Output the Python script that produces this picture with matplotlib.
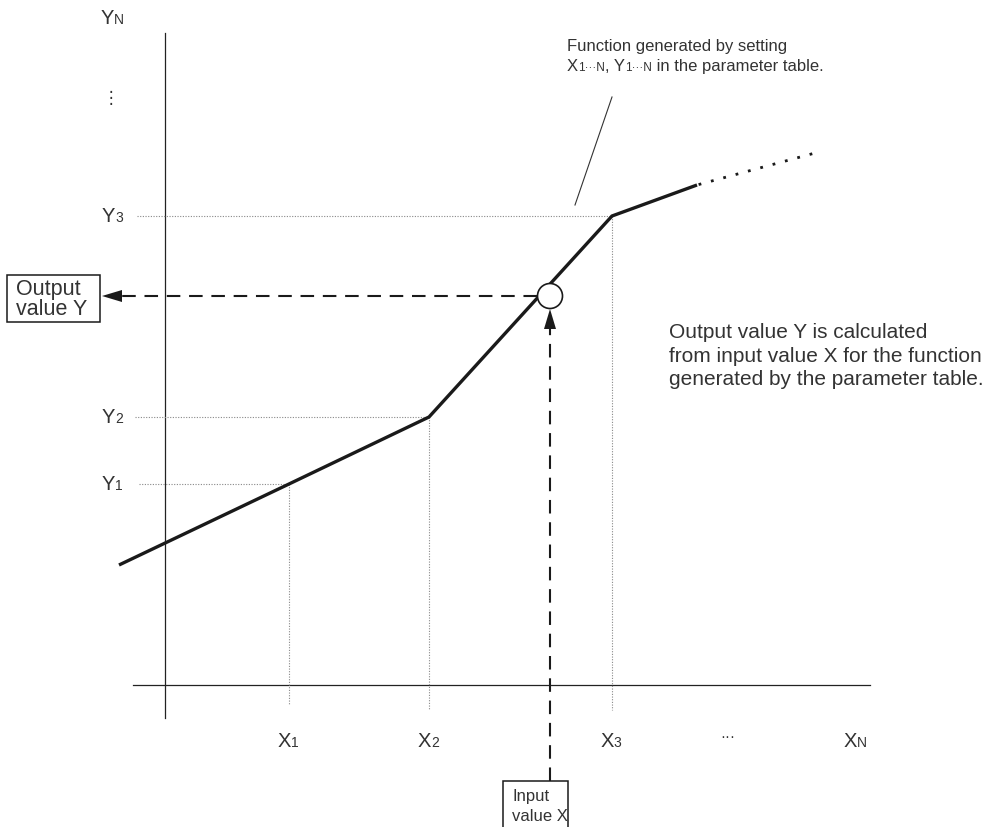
import matplotlib
matplotlib.use("Agg")
import matplotlib.pyplot as plt
from matplotlib.patches import Circle, Rectangle, Polygon

plt.rcParams['font.family'] = ['Liberation Sans', 'DejaVu Sans']

# Diagram coordinates (x to the right, y downward)
axis_x, axis_y = 165, 685
curve_x = [119, 289, 429, 612, 697]
curve_y = [565, 484, 417, 216, 185]
ext_x = [697, 815]
ext_y = [185, 153]
break_x = [289, 429, 612]   # X1, X2, X3
break_y = [484, 417, 216]   # Y1, Y2, Y3
x_labels = [("X", "1"), ("X", "2"), ("X", "3")]
y_labels = [("Y", "1"), ("Y", "2"), ("Y", "3")]
point = (550, 296)

TXT = "#333333"
INK = "#1a1a1a"
fig = plt.figure(figsize=(9.97, 8.27), dpi=100)
ax = fig.add_axes([0, 0, 1, 1])
ax.set_xlim(0, 997)
ax.set_ylim(827, 0)
ax.axis("off")

# axes
ax.plot([axis_x, axis_x], [33, 718], color="#222222", lw=0.9)
ax.plot([133, 870], [axis_y, axis_y], color="#222222", lw=0.9)

# guide lines
guide = dict(color="#888888", lw=0.8, ls=(0, (1, 1.4)))
y_guide_start = [139, 135, 137]
x_guide_end = [705, 710, 710]
for bx, by, gs, ge in zip(break_x, break_y, y_guide_start, x_guide_end):
    ax.plot([gs, bx], [by, by], **guide)
    ax.plot([bx, bx], [by, ge], **guide)

# function curve
ax.plot(curve_x, curve_y, color=INK, lw=2.4, solid_capstyle="butt", solid_joinstyle="miter")
ax.plot(ext_x, ext_y, color=INK, lw=2.0, ls=(4, (1, 3.6)))

renderer = fig.canvas.get_renderer()


def runs(x, y, parts, ha="left"):
    """Place text runs (string, size) on a common baseline starting at x."""
    items = []
    total = 0
    for s, size in parts:
        t = ax.text(0, 0, s, fontsize=size, color=TXT, va="baseline", ha="left")
        w = t.get_window_extent(renderer).width
        items.append((t, w))
        total += w
    start = x
    if ha == "center":
        start = x - total / 2
    elif ha == "right":
        start = x - total
    cx = start
    for t, w in items:
        t.set_position((cx, y))
        cx += w


BIG, SMALL = 14.5, 10
for bx, (a, b) in zip(break_x, x_labels):
    runs(bx - 1, 747, [(a, BIG), (b, SMALL)], ha="center")
runs(855, 747, [("X", BIG), ("N", SMALL)], ha="center")
ax.text(728, 741, "···", fontsize=11, color=TXT, ha="center", va="baseline")

for by, (a, b) in zip(break_y, y_labels):
    runs(123, by + 6, [(a, BIG), (b, SMALL)], ha="right")
runs(124, 24, [("Y", BIG), ("N", SMALL)], ha="right")
ax.text(111, 103, "⋮", fontsize=12, color=TXT, ha="center", va="baseline", family="DejaVu Sans")

# operating point and arrows
ax.add_patch(Circle(point, 12.5, facecolor="white", edgecolor=INK, lw=1.2, zorder=5))
dash = dict(color=INK, lw=1.5, ls=(0, (6.5, 4.2)))
ax.plot([point[0] - 13, 121], [point[1], point[1]], **dash)
ax.add_patch(Polygon([(102, point[1]), (122, point[1] - 6), (122, point[1] + 6)],
                     closed=True, color=INK, lw=0))
ax.plot([point[0], point[0]], [781, 328], **dash)
ax.add_patch(Polygon([(point[0], 309), (point[0] - 6, 329), (point[0] + 6, 329)],
                     closed=True, color=INK, lw=0))

# boxes
ax.add_patch(Rectangle((7, 275), 93, 47, facecolor="white", edgecolor=INK, lw=1.1))
ax.text(16, 295, "Output", fontsize=15.5, color=TXT, ha="left", va="baseline")
ax.text(16, 315, "value Y", fontsize=15.5, color=TXT, ha="left", va="baseline")
ax.add_patch(Rectangle((503, 781), 65, 60, facecolor="white", edgecolor=INK, lw=1.1, zorder=3))
ax.text(512, 801, "Input", fontsize=12, color=TXT, ha="left", va="baseline", zorder=4)
ax.text(512, 821, "value X", fontsize=12, color=TXT, ha="left", va="baseline", zorder=4)

# annotations
ax.text(567, 51, "Function generated by setting", fontsize=12, color=TXT, ha="left", va="baseline")
runs(567, 71, [("X", 12), ("1···N", 8.5), (", Y", 12), ("1···N", 8.5), (" in the parameter table.", 12)])
ax.plot([612, 575], [97, 205], color="#333333", lw=0.8)

right_lines = ["Output value Y is calculated",
               "from input value X for the function",
               "generated by the parameter table."]
for i, line in enumerate(right_lines):
    ax.text(669, 338 + 23.5 * i, line, fontsize=15, color=TXT, ha="left", va="baseline")

fig.savefig("out.png", dpi=100)
